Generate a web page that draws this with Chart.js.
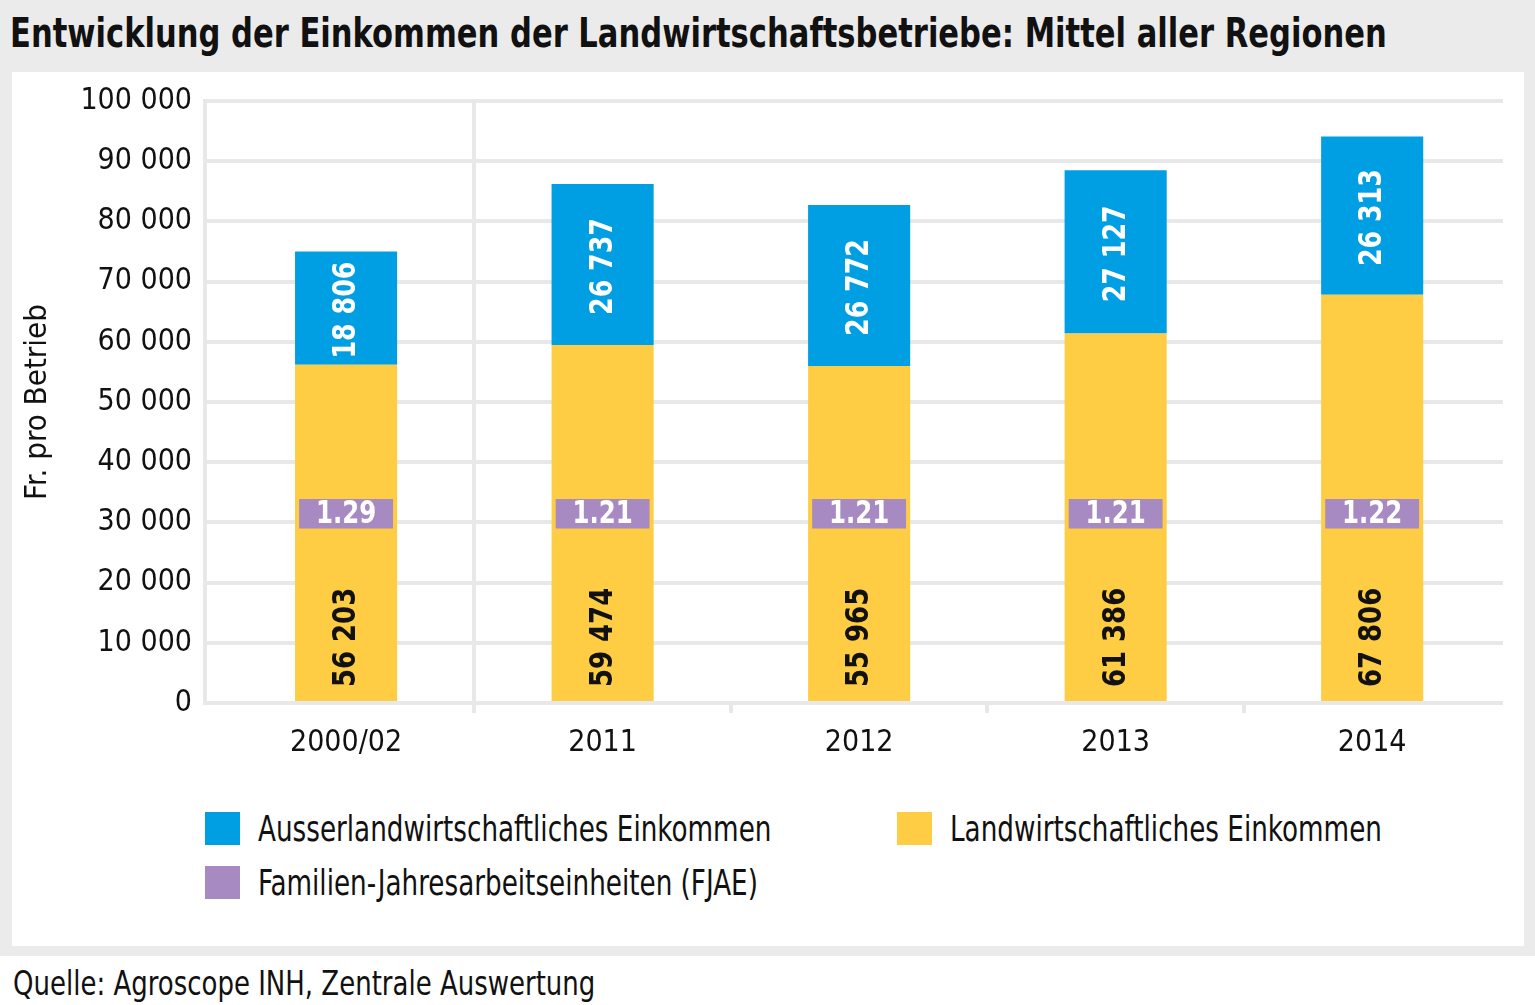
<!DOCTYPE html>
<html>
    <head>
        <title>Einkommen Landwirtschaftsbetriebe</title>
        <meta charset="UTF-8">
        <script src="https://cdn.jsdelivr.net/npm/chart.js@4.4.1/dist/chart.umd.min.js"></script>
        <style>
            body {
                margin: 0;
                width: 1535px;
                height: 1005px;
                background: #fff;
                position: relative;
                overflow: hidden;
                font-family: "DejaVu Sans Condensed", "Liberation Sans", sans-serif;
                color: #111;
            }
            #grau { position: absolute; left: 0; top: 0; width: 1535px; height: 956px; background: #ebebeb; }
            #panel { position: absolute; left: 12px; top: 72px; width: 1512px; height: 874px; background: #fff; }
            #titel { position: absolute; left: 10px; top: 13px; margin: 0; font-size: 40px; line-height: 40px; font-weight: bold; white-space: nowrap; transform: scaleX(0.85); transform-origin: 0 0; }
            #chartContainer { position: absolute; left: 12px; top: 70px; width: 1512px; height: 701px; }
            .leg { position: absolute; font-size: 36px; line-height: 36px; white-space: nowrap; }
            .leg span.box { position: absolute; left: 0; top: 1px; width: 35px; height: 33px; }
            .leg span.txt { position: absolute; left: 53px; top: 0; transform: scaleX(0.81); transform-origin: 0 0; }
            #quelle { position: absolute; left: 13px; top: 966px; font-size: 34px; line-height: 34px; white-space: nowrap; transform: scaleX(0.85); transform-origin: 0 0; }
        </style>
    </head>
    <body>
        <div id="grau"></div>
        <div id="panel"></div>
        <h1 id="titel">Entwicklung der Einkommen der Landwirtschaftsbetriebe: Mittel aller Regionen</h1>
        <div id="chartContainer">
            <canvas id="myChart"></canvas>
        </div>
        <div id="legende"></div>
        <div id="quelle">Quelle: Agroscope INH, Zentrale Auswertung</div>

        <script>
            var fontFamily = '"DejaVu Sans Condensed", "Liberation Sans", sans-serif';

            var categories = ['2000/02', '2011', '2012', '2013', '2014'];
            var landwirtschaftlich = [56203, 59474, 55965, 61386, 67806];
            var ausserlandwirtschaftlich = [18806, 26737, 26772, 27127, 26313];
            var fjae = [1.29, 1.21, 1.21, 1.21, 1.22];
            // where the FJAE label boxes sit on the y scale
            var fjaeBand = [29000, 33900];
            var yMin = 0, yMax = 100000, yStep = 10000;
            // category index range shown on the x axis
            var xMin = -0.55, xMax = 4.51;

            var colBlau = '#009fe3';
            var colGelb = '#ffcd43';
            var colLila = '#a68ac1';
            var colGitter = '#e8e8e8';

            function fmt(v) {
                return String(v).replace(/\B(?=(\d{3})+(?!\d))/g, ' ');
            }

            function punkte(werte) {
                return werte.map(function (v, i) { return { x: i, y: v }; });
            }

            var labelPlugin = {
                id: 'barLabels',
                afterDatasetsDraw: function (chart) {
                    var ctx = chart.ctx;
                    chart.data.datasets.forEach(function (ds, i) {
                        var meta = chart.getDatasetMeta(i);
                        meta.data.forEach(function (bar, j) {
                            var p = bar.getProps(['x', 'y', 'base'], true);
                            ctx.save();
                            ctx.fillStyle = ds.labelColor;
                            ctx.textBaseline = 'middle';
                            ctx.font = 'bold 32px ' + fontFamily;
                            if (ds.kind === 'fjae') {
                                ctx.translate(p.x, (p.y + p.base) / 2 + 1);
                                ctx.scale(0.85, 1);
                                ctx.textAlign = 'center';
                                ctx.fillText(fjae[j].toFixed(2), 0, 0);
                            } else if (ds.kind === 'ausser') {
                                ctx.translate(p.x, (p.y + p.base) / 2 + 2);
                                ctx.rotate(-Math.PI / 2);
                                ctx.scale(0.88, 1);
                                ctx.textAlign = 'center';
                                ctx.fillText(fmt(ausserlandwirtschaftlich[j]), 0, 1);
                            } else {
                                ctx.translate(p.x, p.base - 14);
                                ctx.rotate(-Math.PI / 2);
                                ctx.scale(0.9, 1);
                                ctx.textAlign = 'left';
                                ctx.fillText(fmt(landwirtschaftlich[j]), 0, 1);
                            }
                            ctx.restore();
                        });
                    });
                }
            };

            Chart.defaults.font.family = fontFamily;
            Chart.defaults.color = '#111';

            var ctx = document.getElementById('myChart');
            var myChart = new Chart(ctx, {
                type: 'bar',
                data: {
                    datasets: [
                        {
                            label: 'Landwirtschaftliches Einkommen',
                            kind: 'landw',
                            data: punkte(landwirtschaftlich),
                            backgroundColor: colGelb,
                            labelColor: '#111',
                            stack: 'einkommen',
                            grouped: false,
                            order: 1,
                            categoryPercentage: 1,
                            barPercentage: 0.398
                        },
                        {
                            label: 'Ausserlandwirtschaftliches Einkommen',
                            kind: 'ausser',
                            data: punkte(ausserlandwirtschaftlich),
                            backgroundColor: colBlau,
                            labelColor: '#fff',
                            stack: 'einkommen',
                            grouped: false,
                            order: 1,
                            categoryPercentage: 1,
                            barPercentage: 0.398
                        },
                        {
                            label: 'Familien-Jahresarbeitseinheiten (FJAE)',
                            kind: 'fjae',
                            data: fjae.map(function (v, i) { return { x: i, y: fjaeBand.slice() }; }),
                            backgroundColor: colLila,
                            labelColor: '#fff',
                            stack: 'fjae',
                            grouped: false,
                            order: 0,
                            categoryPercentage: 1,
                            barPercentage: 0.366
                        }
                    ]
                },
                options: {
                    responsive: true,
                    maintainAspectRatio: false,
                    animation: false,
                    layout: { padding: { top: 18, right: 21, left: 0, bottom: 0 } },
                    plugins: {
                        legend: { display: false },
                        tooltip: { enabled: false }
                    },
                    scales: {
                        x: {
                            type: 'linear',
                            min: xMin,
                            max: xMax,
                            offset: false,
                            afterBuildTicks: function (scale) {
                                scale.ticks = categories.map(function (c, i) { return { value: i }; });
                            },
                            grid: {
                                offset: true,
                                lineWidth: 4,
                                color: function (c) { return (c.index === 1 || c.index === 5) ? colGitter : 'rgba(0,0,0,0)'; },
                                tickColor: function (c) { return (c.index >= 1 && c.index <= 4) ? colGitter : 'rgba(0,0,0,0)'; },
                                tickLength: 10,
                                drawTicks: true
                            },
                            border: { display: false },
                            ticks: {
                                font: { size: 30 },
                                padding: 12,
                                color: '#111',
                                callback: function (v) { return categories[v]; }
                            },
                            afterFit: function (scale) { scale.height = 68; }
                        },
                        y: {
                            stacked: true,
                            min: yMin,
                            max: yMax,
                            grid: { lineWidth: 4, color: colGitter, drawTicks: false },
                            border: { display: true, width: 4, color: colGitter },
                            ticks: {
                                stepSize: yStep,
                                padding: 13,
                                font: { size: 30 },
                                color: '#111',
                                callback: function (v) { return fmt(v); }
                            },
                            title: {
                                display: true,
                                text: 'Fr. pro Betrieb',
                                font: { size: 31 },
                                color: '#111',
                                padding: { top: 7, bottom: 0 }
                            },
                            afterFit: function (scale) { scale.width = 193; }
                        }
                    }
                },
                plugins: [labelPlugin]
            });

            // Legende aus den Datensätzen
            var legendPos = [
                { ds: 1, left: 205, top: 811 },
                { ds: 0, left: 897, top: 811 },
                { ds: 2, left: 205, top: 865 }
            ];
            var legende = document.getElementById('legende');
            legendPos.forEach(function (lp) {
                var ds = myChart.data.datasets[lp.ds];
                var item = document.createElement('div');
                item.className = 'leg';
                item.style.left = lp.left + 'px';
                item.style.top = lp.top + 'px';
                item.innerHTML = '<span class="box" style="background:' + ds.backgroundColor + '"></span><span class="txt">' + ds.label + '</span>';
                legende.appendChild(item);
            });
        </script>
    </body>
</html>
